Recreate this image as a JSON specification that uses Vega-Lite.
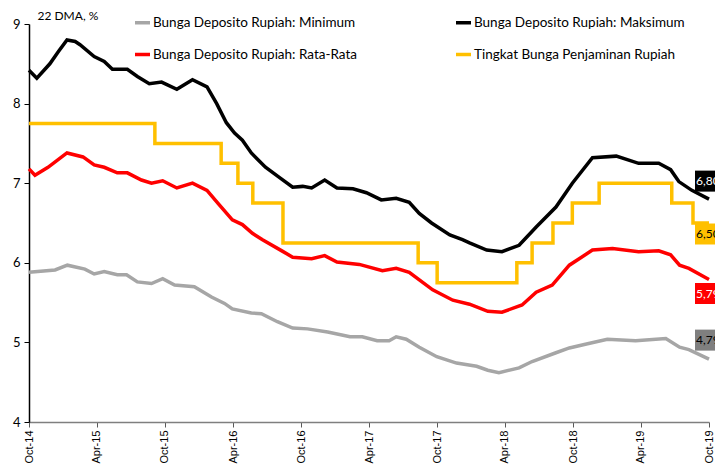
{
  "$schema": "https://vega.github.io/schema/vega-lite/v6.json",
  "width": 680,
  "height": 398,
  "autosize": "none",
  "padding": {"left": 29, "top": 24, "right": 6, "bottom": 49},
  "config": {
    "view": {"stroke": null},
    "font": "Lato",
    "legend": {
      "orient": "none", "legendX": 104, "legendY": -11, "direction": "horizontal",
      "columns": 2, "columnPadding": 91, "rowPadding": 15, "padding": 0,
      "symbolType": "stroke", "symbolStrokeWidth": 3.5, "symbolSize": 225,
      "labelFont": "Lato", "labelFontSize": 13.5, "labelColor": "#000", "labelOffset": 1, "labelLimit": 400
    }
  },
  "datasets": {
    "dep": [
      {"date": "2014-10-01", "series": "Bunga Deposito Rupiah: Maksimum", "value": 8.42},
      {"date": "2014-10-22", "series": "Bunga Deposito Rupiah: Maksimum", "value": 8.32},
      {"date": "2014-11-26", "series": "Bunga Deposito Rupiah: Maksimum", "value": 8.50},
      {"date": "2014-12-20", "series": "Bunga Deposito Rupiah: Maksimum", "value": 8.66},
      {"date": "2015-01-11", "series": "Bunga Deposito Rupiah: Maksimum", "value": 8.80},
      {"date": "2015-02-02", "series": "Bunga Deposito Rupiah: Maksimum", "value": 8.78},
      {"date": "2015-02-15", "series": "Bunga Deposito Rupiah: Maksimum", "value": 8.74},
      {"date": "2015-03-25", "series": "Bunga Deposito Rupiah: Maksimum", "value": 8.59},
      {"date": "2015-04-21", "series": "Bunga Deposito Rupiah: Maksimum", "value": 8.53},
      {"date": "2015-05-13", "series": "Bunga Deposito Rupiah: Maksimum", "value": 8.43},
      {"date": "2015-06-22", "series": "Bunga Deposito Rupiah: Maksimum", "value": 8.43},
      {"date": "2015-07-19", "series": "Bunga Deposito Rupiah: Maksimum", "value": 8.34},
      {"date": "2015-08-20", "series": "Bunga Deposito Rupiah: Maksimum", "value": 8.25},
      {"date": "2015-09-22", "series": "Bunga Deposito Rupiah: Maksimum", "value": 8.27},
      {"date": "2015-11-02", "series": "Bunga Deposito Rupiah: Maksimum", "value": 8.18},
      {"date": "2015-12-14", "series": "Bunga Deposito Rupiah: Maksimum", "value": 8.30},
      {"date": "2016-01-22", "series": "Bunga Deposito Rupiah: Maksimum", "value": 8.21},
      {"date": "2016-02-17", "series": "Bunga Deposito Rupiah: Maksimum", "value": 8.00},
      {"date": "2016-03-14", "series": "Bunga Deposito Rupiah: Maksimum", "value": 7.76},
      {"date": "2016-04-05", "series": "Bunga Deposito Rupiah: Maksimum", "value": 7.63},
      {"date": "2016-04-26", "series": "Bunga Deposito Rupiah: Maksimum", "value": 7.54},
      {"date": "2016-05-20", "series": "Bunga Deposito Rupiah: Maksimum", "value": 7.38},
      {"date": "2016-06-27", "series": "Bunga Deposito Rupiah: Maksimum", "value": 7.20},
      {"date": "2016-08-04", "series": "Bunga Deposito Rupiah: Maksimum", "value": 7.07},
      {"date": "2016-09-08", "series": "Bunga Deposito Rupiah: Maksimum", "value": 6.95},
      {"date": "2016-10-05", "series": "Bunga Deposito Rupiah: Maksimum", "value": 6.96},
      {"date": "2016-10-29", "series": "Bunga Deposito Rupiah: Maksimum", "value": 6.94},
      {"date": "2016-12-03", "series": "Bunga Deposito Rupiah: Maksimum", "value": 7.04},
      {"date": "2017-01-05", "series": "Bunga Deposito Rupiah: Maksimum", "value": 6.94},
      {"date": "2017-02-17", "series": "Bunga Deposito Rupiah: Maksimum", "value": 6.93},
      {"date": "2017-03-25", "series": "Bunga Deposito Rupiah: Maksimum", "value": 6.88},
      {"date": "2017-05-04", "series": "Bunga Deposito Rupiah: Maksimum", "value": 6.79},
      {"date": "2017-06-13", "series": "Bunga Deposito Rupiah: Maksimum", "value": 6.81},
      {"date": "2017-07-18", "series": "Bunga Deposito Rupiah: Maksimum", "value": 6.76},
      {"date": "2017-08-14", "series": "Bunga Deposito Rupiah: Maksimum", "value": 6.62},
      {"date": "2017-09-16", "series": "Bunga Deposito Rupiah: Maksimum", "value": 6.50},
      {"date": "2017-11-04", "series": "Bunga Deposito Rupiah: Maksimum", "value": 6.35},
      {"date": "2017-12-08", "series": "Bunga Deposito Rupiah: Maksimum", "value": 6.29},
      {"date": "2017-12-27", "series": "Bunga Deposito Rupiah: Maksimum", "value": 6.25},
      {"date": "2018-02-11", "series": "Bunga Deposito Rupiah: Maksimum", "value": 6.16},
      {"date": "2018-03-24", "series": "Bunga Deposito Rupiah: Maksimum", "value": 6.14},
      {"date": "2018-05-09", "series": "Bunga Deposito Rupiah: Maksimum", "value": 6.22},
      {"date": "2018-06-24", "series": "Bunga Deposito Rupiah: Maksimum", "value": 6.45},
      {"date": "2018-08-16", "series": "Bunga Deposito Rupiah: Maksimum", "value": 6.70},
      {"date": "2018-09-29", "series": "Bunga Deposito Rupiah: Maksimum", "value": 7.00},
      {"date": "2018-11-22", "series": "Bunga Deposito Rupiah: Maksimum", "value": 7.32},
      {"date": "2019-01-25", "series": "Bunga Deposito Rupiah: Maksimum", "value": 7.34},
      {"date": "2019-03-26", "series": "Bunga Deposito Rupiah: Maksimum", "value": 7.25},
      {"date": "2019-05-19", "series": "Bunga Deposito Rupiah: Maksimum", "value": 7.25},
      {"date": "2019-06-20", "series": "Bunga Deposito Rupiah: Maksimum", "value": 7.17},
      {"date": "2019-07-12", "series": "Bunga Deposito Rupiah: Maksimum", "value": 7.02},
      {"date": "2019-08-16", "series": "Bunga Deposito Rupiah: Maksimum", "value": 6.91},
      {"date": "2019-10-01", "series": "Bunga Deposito Rupiah: Maksimum", "value": 6.80},

      {"date": "2014-10-01", "series": "Bunga Deposito Rupiah: Rata-Rata", "value": 7.18},
      {"date": "2014-10-17", "series": "Bunga Deposito Rupiah: Rata-Rata", "value": 7.10},
      {"date": "2014-11-21", "series": "Bunga Deposito Rupiah: Rata-Rata", "value": 7.20},
      {"date": "2015-01-11", "series": "Bunga Deposito Rupiah: Rata-Rata", "value": 7.38},
      {"date": "2015-02-23", "series": "Bunga Deposito Rupiah: Rata-Rata", "value": 7.33},
      {"date": "2015-03-25", "series": "Bunga Deposito Rupiah: Rata-Rata", "value": 7.23},
      {"date": "2015-04-21", "series": "Bunga Deposito Rupiah: Rata-Rata", "value": 7.20},
      {"date": "2015-05-26", "series": "Bunga Deposito Rupiah: Rata-Rata", "value": 7.13},
      {"date": "2015-06-22", "series": "Bunga Deposito Rupiah: Rata-Rata", "value": 7.13},
      {"date": "2015-07-30", "series": "Bunga Deposito Rupiah: Rata-Rata", "value": 7.04},
      {"date": "2015-08-26", "series": "Bunga Deposito Rupiah: Rata-Rata", "value": 7.00},
      {"date": "2015-09-25", "series": "Bunga Deposito Rupiah: Rata-Rata", "value": 7.03},
      {"date": "2015-11-02", "series": "Bunga Deposito Rupiah: Rata-Rata", "value": 6.94},
      {"date": "2015-12-14", "series": "Bunga Deposito Rupiah: Rata-Rata", "value": 7.00},
      {"date": "2016-01-22", "series": "Bunga Deposito Rupiah: Rata-Rata", "value": 6.91},
      {"date": "2016-02-20", "series": "Bunga Deposito Rupiah: Rata-Rata", "value": 6.75},
      {"date": "2016-03-30", "series": "Bunga Deposito Rupiah: Rata-Rata", "value": 6.54},
      {"date": "2016-04-26", "series": "Bunga Deposito Rupiah: Rata-Rata", "value": 6.48},
      {"date": "2016-05-23", "series": "Bunga Deposito Rupiah: Rata-Rata", "value": 6.37},
      {"date": "2016-06-19", "series": "Bunga Deposito Rupiah: Rata-Rata", "value": 6.29},
      {"date": "2016-08-10", "series": "Bunga Deposito Rupiah: Rata-Rata", "value": 6.15},
      {"date": "2016-09-08", "series": "Bunga Deposito Rupiah: Rata-Rata", "value": 6.07},
      {"date": "2016-10-29", "series": "Bunga Deposito Rupiah: Rata-Rata", "value": 6.05},
      {"date": "2016-12-03", "series": "Bunga Deposito Rupiah: Rata-Rata", "value": 6.09},
      {"date": "2017-01-05", "series": "Bunga Deposito Rupiah: Rata-Rata", "value": 6.01},
      {"date": "2017-03-06", "series": "Bunga Deposito Rupiah: Rata-Rata", "value": 5.98},
      {"date": "2017-05-07", "series": "Bunga Deposito Rupiah: Rata-Rata", "value": 5.90},
      {"date": "2017-06-13", "series": "Bunga Deposito Rupiah: Rata-Rata", "value": 5.93},
      {"date": "2017-07-18", "series": "Bunga Deposito Rupiah: Rata-Rata", "value": 5.88},
      {"date": "2017-09-19", "series": "Bunga Deposito Rupiah: Rata-Rata", "value": 5.66},
      {"date": "2017-11-12", "series": "Bunga Deposito Rupiah: Rata-Rata", "value": 5.53},
      {"date": "2017-12-27", "series": "Bunga Deposito Rupiah: Rata-Rata", "value": 5.48},
      {"date": "2018-02-14", "series": "Bunga Deposito Rupiah: Rata-Rata", "value": 5.39},
      {"date": "2018-03-24", "series": "Bunga Deposito Rupiah: Rata-Rata", "value": 5.38},
      {"date": "2018-05-17", "series": "Bunga Deposito Rupiah: Rata-Rata", "value": 5.47},
      {"date": "2018-06-24", "series": "Bunga Deposito Rupiah: Rata-Rata", "value": 5.63},
      {"date": "2018-08-06", "series": "Bunga Deposito Rupiah: Rata-Rata", "value": 5.72},
      {"date": "2018-09-21", "series": "Bunga Deposito Rupiah: Rata-Rata", "value": 5.97},
      {"date": "2018-11-22", "series": "Bunga Deposito Rupiah: Rata-Rata", "value": 6.16},
      {"date": "2019-01-15", "series": "Bunga Deposito Rupiah: Rata-Rata", "value": 6.18},
      {"date": "2019-03-26", "series": "Bunga Deposito Rupiah: Rata-Rata", "value": 6.14},
      {"date": "2019-05-19", "series": "Bunga Deposito Rupiah: Rata-Rata", "value": 6.15},
      {"date": "2019-06-20", "series": "Bunga Deposito Rupiah: Rata-Rata", "value": 6.10},
      {"date": "2019-07-14", "series": "Bunga Deposito Rupiah: Rata-Rata", "value": 5.97},
      {"date": "2019-08-08", "series": "Bunga Deposito Rupiah: Rata-Rata", "value": 5.93},
      {"date": "2019-10-01", "series": "Bunga Deposito Rupiah: Rata-Rata", "value": 5.79},

      {"date": "2014-10-01", "series": "Bunga Deposito Rupiah: Minimum", "value": 5.88},
      {"date": "2014-12-10", "series": "Bunga Deposito Rupiah: Minimum", "value": 5.91},
      {"date": "2015-01-12", "series": "Bunga Deposito Rupiah: Minimum", "value": 5.97},
      {"date": "2015-02-28", "series": "Bunga Deposito Rupiah: Minimum", "value": 5.92},
      {"date": "2015-03-25", "series": "Bunga Deposito Rupiah: Minimum", "value": 5.86},
      {"date": "2015-04-21", "series": "Bunga Deposito Rupiah: Minimum", "value": 5.89},
      {"date": "2015-05-26", "series": "Bunga Deposito Rupiah: Minimum", "value": 5.85},
      {"date": "2015-06-20", "series": "Bunga Deposito Rupiah: Minimum", "value": 5.85},
      {"date": "2015-07-19", "series": "Bunga Deposito Rupiah: Minimum", "value": 5.76},
      {"date": "2015-08-26", "series": "Bunga Deposito Rupiah: Minimum", "value": 5.74},
      {"date": "2015-09-25", "series": "Bunga Deposito Rupiah: Minimum", "value": 5.80},
      {"date": "2015-10-27", "series": "Bunga Deposito Rupiah: Minimum", "value": 5.72},
      {"date": "2015-12-19", "series": "Bunga Deposito Rupiah: Minimum", "value": 5.70},
      {"date": "2016-02-03", "series": "Bunga Deposito Rupiah: Minimum", "value": 5.57},
      {"date": "2016-03-09", "series": "Bunga Deposito Rupiah: Minimum", "value": 5.49},
      {"date": "2016-03-30", "series": "Bunga Deposito Rupiah: Minimum", "value": 5.42},
      {"date": "2016-05-20", "series": "Bunga Deposito Rupiah: Minimum", "value": 5.37},
      {"date": "2016-06-16", "series": "Bunga Deposito Rupiah: Minimum", "value": 5.36},
      {"date": "2016-07-29", "series": "Bunga Deposito Rupiah: Minimum", "value": 5.26},
      {"date": "2016-09-08", "series": "Bunga Deposito Rupiah: Minimum", "value": 5.18},
      {"date": "2016-10-18", "series": "Bunga Deposito Rupiah: Minimum", "value": 5.17},
      {"date": "2016-12-11", "series": "Bunga Deposito Rupiah: Minimum", "value": 5.13},
      {"date": "2017-02-09", "series": "Bunga Deposito Rupiah: Minimum", "value": 5.07},
      {"date": "2017-03-14", "series": "Bunga Deposito Rupiah: Minimum", "value": 5.07},
      {"date": "2017-04-23", "series": "Bunga Deposito Rupiah: Minimum", "value": 5.02},
      {"date": "2017-05-25", "series": "Bunga Deposito Rupiah: Minimum", "value": 5.02},
      {"date": "2017-06-13", "series": "Bunga Deposito Rupiah: Minimum", "value": 5.07},
      {"date": "2017-07-10", "series": "Bunga Deposito Rupiah: Minimum", "value": 5.04},
      {"date": "2017-08-14", "series": "Bunga Deposito Rupiah: Minimum", "value": 4.94},
      {"date": "2017-09-30", "series": "Bunga Deposito Rupiah: Minimum", "value": 4.82},
      {"date": "2017-11-22", "series": "Bunga Deposito Rupiah: Minimum", "value": 4.74},
      {"date": "2018-01-15", "series": "Bunga Deposito Rupiah: Minimum", "value": 4.70},
      {"date": "2018-02-14", "series": "Bunga Deposito Rupiah: Minimum", "value": 4.65},
      {"date": "2018-03-16", "series": "Bunga Deposito Rupiah: Minimum", "value": 4.62},
      {"date": "2018-05-09", "series": "Bunga Deposito Rupiah: Minimum", "value": 4.68},
      {"date": "2018-06-13", "series": "Bunga Deposito Rupiah: Minimum", "value": 4.76},
      {"date": "2018-08-16", "series": "Bunga Deposito Rupiah: Minimum", "value": 4.87},
      {"date": "2018-09-21", "series": "Bunga Deposito Rupiah: Minimum", "value": 4.93},
      {"date": "2018-11-06", "series": "Bunga Deposito Rupiah: Minimum", "value": 4.98},
      {"date": "2019-01-01", "series": "Bunga Deposito Rupiah: Minimum", "value": 5.04},
      {"date": "2019-03-18", "series": "Bunga Deposito Rupiah: Minimum", "value": 5.02},
      {"date": "2019-06-07", "series": "Bunga Deposito Rupiah: Minimum", "value": 5.05},
      {"date": "2019-07-14", "series": "Bunga Deposito Rupiah: Minimum", "value": 4.94},
      {"date": "2019-08-08", "series": "Bunga Deposito Rupiah: Minimum", "value": 4.91},
      {"date": "2019-10-01", "series": "Bunga Deposito Rupiah: Minimum", "value": 4.79}
    ],
    "lps": [
      {"date": "2014-10-01", "series": "Tingkat Bunga Penjaminan Rupiah", "value": 7.75},
      {"date": "2015-09-04", "series": "Tingkat Bunga Penjaminan Rupiah", "value": 7.50},
      {"date": "2016-02-29", "series": "Tingkat Bunga Penjaminan Rupiah", "value": 7.25},
      {"date": "2016-04-14", "series": "Tingkat Bunga Penjaminan Rupiah", "value": 7.00},
      {"date": "2016-05-24", "series": "Tingkat Bunga Penjaminan Rupiah", "value": 6.75},
      {"date": "2016-08-13", "series": "Tingkat Bunga Penjaminan Rupiah", "value": 6.25},
      {"date": "2017-08-11", "series": "Tingkat Bunga Penjaminan Rupiah", "value": 6.00},
      {"date": "2017-10-01", "series": "Tingkat Bunga Penjaminan Rupiah", "value": 5.75},
      {"date": "2018-05-03", "series": "Tingkat Bunga Penjaminan Rupiah", "value": 6.00},
      {"date": "2018-06-13", "series": "Tingkat Bunga Penjaminan Rupiah", "value": 6.25},
      {"date": "2018-08-08", "series": "Tingkat Bunga Penjaminan Rupiah", "value": 6.50},
      {"date": "2018-09-29", "series": "Tingkat Bunga Penjaminan Rupiah", "value": 6.75},
      {"date": "2018-12-10", "series": "Tingkat Bunga Penjaminan Rupiah", "value": 7.00},
      {"date": "2019-06-23", "series": "Tingkat Bunga Penjaminan Rupiah", "value": 6.75},
      {"date": "2019-08-19", "series": "Tingkat Bunga Penjaminan Rupiah", "value": 6.50},
      {"date": "2019-10-01", "series": "Tingkat Bunga Penjaminan Rupiah", "value": 6.50}
    ],
    "ends": [
      {"date": "2019-10-01", "series": "Bunga Deposito Rupiah: Maksimum", "value": 6.80, "label": "6,80"},
      {"date": "2019-10-01", "series": "Tingkat Bunga Penjaminan Rupiah", "value": 6.50, "label": "6,50"},
      {"date": "2019-10-01", "series": "Bunga Deposito Rupiah: Rata-Rata", "value": 5.79, "label": "5,79"},
      {"date": "2019-10-01", "series": "Bunga Deposito Rupiah: Minimum", "value": 4.79, "label": "4,79"}
    ]
  },
  "encoding": {
    "x": {
      "field": "date", "type": "temporal",
      "scale": {"type": "utc", "domain": [{"year": 2014, "month": 10, "date": 1, "utc": true}, {"year": 2019, "month": 10, "date": 1, "utc": true}]},
      "axis": {
        "title": null,
        "values": [
          {"year": 2014, "month": 10, "date": 1, "utc": true},
          {"year": 2015, "month": 4, "date": 1, "utc": true},
          {"year": 2015, "month": 10, "date": 1, "utc": true},
          {"year": 2016, "month": 4, "date": 1, "utc": true},
          {"year": 2016, "month": 10, "date": 1, "utc": true},
          {"year": 2017, "month": 4, "date": 1, "utc": true},
          {"year": 2017, "month": 10, "date": 1, "utc": true},
          {"year": 2018, "month": 4, "date": 1, "utc": true},
          {"year": 2018, "month": 10, "date": 1, "utc": true},
          {"year": 2019, "month": 4, "date": 1, "utc": true},
          {"year": 2019, "month": 10, "date": 1, "utc": true}
        ],
        "format": "%b-%y", "labelAngle": -90, "labelAlign": "right", "labelBaseline": "middle",
        "labelFont": "Liberation Sans", "labelFontSize": 11, "labelColor": "#000",
        "domainColor": "#7f7f7f", "domainWidth": 1.5, "tickColor": "#595959", "tickSize": 5, "labelPadding": 3,
        "grid": false, "labelFlush": false, "labelOverlap": false
      }
    },
    "y": {
      "field": "value", "type": "quantitative",
      "scale": {"domain": [4, 9], "nice": false, "zero": false},
      "axis": {
        "values": [4, 5, 6, 7, 8, 9], "grid": false,
        "title": "22 DMA, %", "titleAngle": 0, "titleAlign": "left", "titleBaseline": "middle",
        "titleX": 8, "titleY": -9, "titleFont": "Lato", "titleFontSize": 12, "titleFontWeight": "normal", "titleColor": "#000",
        "labelFont": "Lato", "labelFontSize": 13, "labelColor": "#000", "labelPadding": 4,
        "domainColor": "#000", "domainWidth": 1.5, "tickColor": "#000", "tickSize": 5
      }
    }
  },
  "layer": [
    {
      "data": {"name": "lps"},
      "mark": {"type": "line", "interpolate": "step-after", "strokeWidth": 3.5, "clip": false},
      "encoding": {
        "color": {
          "field": "series", "type": "nominal", "title": null,
          "scale": {
            "domain": ["Bunga Deposito Rupiah: Minimum", "Bunga Deposito Rupiah: Maksimum", "Bunga Deposito Rupiah: Rata-Rata", "Tingkat Bunga Penjaminan Rupiah"],
            "range": ["#A6A6A6", "#000000", "#FF0000", "#FFC000"]
          }
        }
      }
    },
    {
      "data": {"name": "dep"},
      "mark": {"type": "line", "strokeWidth": 3.5},
      "encoding": {
        "color": {"field": "series", "type": "nominal", "title": null},
        "order": {"field": "date", "type": "temporal"}
      }
    },
    {
      "data": {"name": "ends"},
      "transform": [{"filter": "datum.series === 'Bunga Deposito Rupiah: Maksimum'"}],
      "mark": {"type": "point", "shape": "M-1,-0.7L1,-0.7L1,0.7L-1,0.7Z", "size": 900, "filled": true, "opacity": 1, "color": "#000000", "xOffset": 1, "yOffset": -18, "clip": false}
    },
    {
      "data": {"name": "ends"},
      "transform": [{"filter": "datum.series === 'Bunga Deposito Rupiah: Maksimum'"}],
      "mark": {"type": "text", "align": "left", "baseline": "middle", "dx": -13, "dy": -18, "color": "#ffffff", "font": "Lato", "fontSize": 12},
      "encoding": {"text": {"field": "label"}}
    },
    {
      "data": {"name": "ends"},
      "transform": [{"filter": "datum.series === 'Tingkat Bunga Penjaminan Rupiah'"}],
      "mark": {"type": "point", "shape": "M-1,-0.7L1,-0.7L1,0.7L-1,0.7Z", "size": 900, "filled": true, "opacity": 1, "color": "#FFC000", "xOffset": 1, "yOffset": 11, "clip": false}
    },
    {
      "data": {"name": "ends"},
      "transform": [{"filter": "datum.series === 'Tingkat Bunga Penjaminan Rupiah'"}],
      "mark": {"type": "text", "align": "left", "baseline": "middle", "dx": -13, "dy": 11, "color": "#000000", "font": "Lato", "fontSize": 12},
      "encoding": {"text": {"field": "label"}}
    },
    {
      "data": {"name": "ends"},
      "transform": [{"filter": "datum.series === 'Bunga Deposito Rupiah: Rata-Rata'"}],
      "mark": {"type": "point", "shape": "M-1,-0.7L1,-0.7L1,0.7L-1,0.7Z", "size": 900, "filled": true, "opacity": 1, "color": "#FF0000", "xOffset": 1, "yOffset": 14, "clip": false}
    },
    {
      "data": {"name": "ends"},
      "transform": [{"filter": "datum.series === 'Bunga Deposito Rupiah: Rata-Rata'"}],
      "mark": {"type": "text", "align": "left", "baseline": "middle", "dx": -13, "dy": 14, "color": "#ffffff", "font": "Lato", "fontSize": 12},
      "encoding": {"text": {"field": "label"}}
    },
    {
      "data": {"name": "ends"},
      "transform": [{"filter": "datum.series === 'Bunga Deposito Rupiah: Minimum'"}],
      "mark": {"type": "point", "shape": "M-1,-0.7L1,-0.7L1,0.7L-1,0.7Z", "size": 900, "filled": true, "opacity": 1, "color": "#7F7F7F", "xOffset": 1, "yOffset": -19, "clip": false}
    },
    {
      "data": {"name": "ends"},
      "transform": [{"filter": "datum.series === 'Bunga Deposito Rupiah: Minimum'"}],
      "mark": {"type": "text", "align": "left", "baseline": "middle", "dx": -13, "dy": -19, "color": "#000000", "font": "Lato", "fontSize": 12},
      "encoding": {"text": {"field": "label"}}
    }
  ]
}
